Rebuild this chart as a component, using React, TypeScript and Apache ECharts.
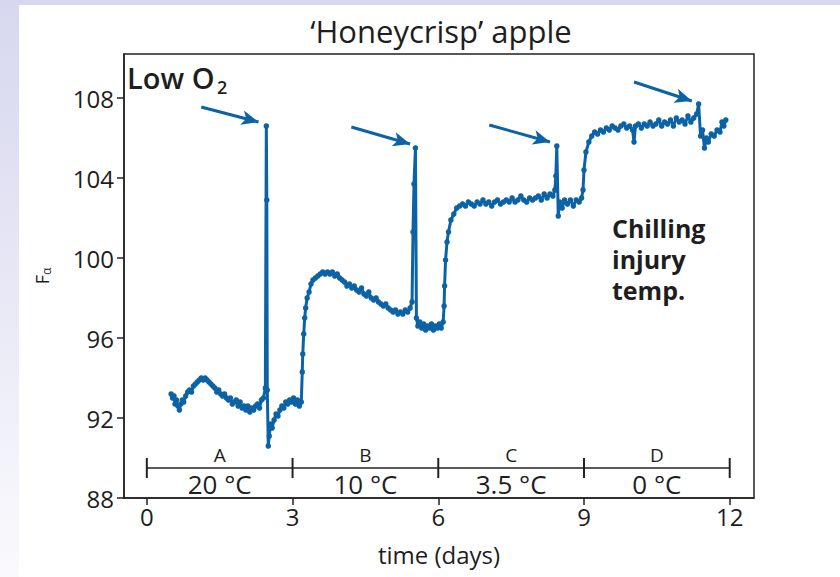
import React, { useEffect, useRef } from "react";
import * as echarts from "echarts";

// ---------- data ----------
const days: number[] = [
  0.5, 0.53, 0.56, 0.58, 0.61, 0.64, 0.67, 0.7, 0.73, 0.76, 0.8, 0.84, 0.88, 0.92, 0.96, 1.0, 1.04, 1.08, 1.12, 1.16,
  1.2, 1.24, 1.28, 1.32, 1.36, 1.4, 1.44, 1.48, 1.52, 1.56, 1.6, 1.64, 1.68, 1.72, 1.76, 1.8, 1.84, 1.88, 1.92, 1.96,
  2.0, 2.04, 2.08, 2.12, 2.16, 2.2, 2.24, 2.28, 2.32, 2.36, 2.4, 2.44, 2.46, 2.47, 2.48, 2.5, 2.52, 2.55, 2.58, 2.62,
  2.66, 2.7, 2.74, 2.78, 2.82, 2.86, 2.9, 2.94, 2.98, 3.02, 3.06, 3.1, 3.14, 3.18, 3.2, 3.21, 3.23, 3.25, 3.27, 3.3,
  3.34, 3.38, 3.42, 3.47, 3.52, 3.57, 3.62, 3.67, 3.72, 3.77, 3.82, 3.87, 3.92, 3.97, 4.02, 4.07, 4.12, 4.17, 4.22, 4.27,
  4.32, 4.37, 4.42, 4.47, 4.52, 4.57, 4.62, 4.67, 4.72, 4.77, 4.82, 4.87, 4.92, 4.97, 5.02, 5.07, 5.12, 5.17, 5.22, 5.27,
  5.32, 5.37, 5.42, 5.46, 5.48, 5.5, 5.53, 5.55, 5.58, 5.62, 5.66, 5.7, 5.74, 5.78, 5.82, 5.86, 5.9, 5.94, 5.98, 6.02,
  6.06, 6.1, 6.12, 6.13, 6.15, 6.18, 6.21, 6.26, 6.32, 6.38, 6.44, 6.5, 6.56, 6.62, 6.68, 6.74, 6.8, 6.86, 6.92, 6.98,
  7.04, 7.1, 7.16, 7.22, 7.28, 7.34, 7.4, 7.46, 7.52, 7.58, 7.64, 7.7, 7.76, 7.82, 7.88, 7.94, 8.0, 8.06, 8.12, 8.18,
  8.24, 8.3, 8.36, 8.4, 8.42, 8.44, 8.47, 8.5, 8.55, 8.6, 8.66, 8.72, 8.78, 8.84, 8.9, 8.95, 8.98, 9.0, 9.04, 9.1,
  9.16, 9.22, 9.28, 9.34, 9.4, 9.46, 9.52, 9.58, 9.64, 9.7, 9.76, 9.82, 9.88, 9.94, 10.0, 10.03, 10.06, 10.12, 10.18, 10.24,
  10.3, 10.36, 10.42, 10.48, 10.54, 10.6, 10.66, 10.72, 10.78, 10.84, 10.9, 10.96, 11.02, 11.08, 11.14, 11.2, 11.26, 11.32, 11.36, 11.4,
  11.44, 11.48, 11.52, 11.56, 11.62, 11.68, 11.74, 11.8, 11.84, 11.88, 11.92,
];

const fAlpha: number[] = [
  93.2, 93.0, 93.1, 92.7, 92.9, 92.6, 92.4, 92.7, 92.9, 92.8, 93.1, 93.3, 93.4, 93.3, 93.6, 93.7, 93.8, 93.9, 94.0, 93.9,
  94.0, 93.9, 93.8, 93.7, 93.6, 93.5, 93.3, 93.4, 93.2, 93.1, 93.2, 93.0, 92.9, 93.0, 92.7, 92.8, 92.9, 92.6, 92.8, 92.5,
  92.6, 92.4, 92.6, 92.3, 92.5, 92.4, 92.6, 92.7, 92.5, 92.9, 93.0, 93.5, 106.6, 102.9, 93.4, 90.6, 91.1, 91.7, 91.5, 91.9,
  92.2, 92.1, 92.4, 92.6, 92.5, 92.8, 92.7, 92.9, 92.8, 93.0, 92.7, 92.9, 92.6, 92.8, 94.3, 95.2, 96.2, 97.0, 97.5, 98.0,
  98.3, 98.7, 98.9, 99.0, 99.1, 99.2, 99.3, 99.2, 99.3, 99.2, 99.3, 99.1, 99.2, 99.0, 98.9, 98.8, 98.6, 98.7, 98.5, 98.6,
  98.4, 98.3, 98.5, 98.2, 98.1, 98.3, 98.0, 97.9, 98.0, 97.8, 97.7, 97.6, 97.7, 97.5, 97.4, 97.3, 97.4, 97.2, 97.3, 97.2,
  97.4, 97.3, 97.5, 97.8, 101.3, 103.7, 105.5, 97.0, 96.6, 96.8, 96.5, 96.7, 96.4, 96.6, 96.5, 96.7, 96.4, 96.6, 96.5, 96.7,
  96.5, 96.8, 97.6, 98.6, 99.9, 100.8, 101.3, 101.9, 102.2, 102.5, 102.6, 102.7, 102.6, 102.8, 102.7, 102.6, 102.8, 102.7, 102.9, 102.7,
  102.8, 102.6, 102.8, 102.9, 102.7, 102.8, 102.9, 102.8, 103.0, 102.8, 102.9, 103.1, 102.9, 102.8, 103.0, 102.9, 103.0, 103.1, 102.9, 103.2,
  103.0, 103.2, 103.1, 103.4, 104.1, 105.6, 102.1, 102.8, 102.5, 102.9, 102.7, 102.9, 102.6, 102.9, 102.8, 103.0, 103.4, 104.4, 105.3, 105.8,
  106.1, 106.3, 106.2, 106.4, 106.3, 106.5, 106.4, 106.6, 106.5, 106.4, 106.6, 106.7, 106.5, 106.6, 106.4, 105.8, 106.6, 106.7, 106.5, 106.7,
  106.6, 106.8, 106.6, 106.7, 106.9, 106.6, 106.8, 106.7, 106.9, 106.6, 107.0, 106.8, 106.9, 106.7, 107.1, 106.8, 107.0, 107.2, 107.7, 106.1,
  106.4, 105.5, 106.0, 105.8, 106.2, 106.1, 106.4, 106.3, 106.8, 106.6, 106.9,
];

// arrows: [startDay, startF, endDay, endF]
const arrows: number[][] = [
  [1.12, 107.55, 2.3, 106.8],
  [4.21, 106.55, 5.42, 105.7],
  [7.05, 106.65, 8.3, 105.8],
  [10.03, 108.8, 11.22, 107.85],
];

const xTickValues = [0, 3, 6, 9, 12];
const yTickValues = [88, 92, 96, 100, 104, 108];

const phaseBounds = [0, 3, 6, 9, 12];
const phaseLetters = ["A", "B", "C", "D"];
const phaseTemps = ["20 °C", "10 °C", "3.5 °C", "0 °C"];
const phaseBarLevel = 89.5;

const FONT = "'Open Sans', 'Noto Sans', sans-serif";
const BLUE = "#0b63a5";
const INK = "#1e1e1e";

export default function App() {
  const ref = useRef<HTMLDivElement>(null);

  useEffect(() => {
    if (!ref.current) return;
    const chart = echarts.init(ref.current, undefined, { renderer: "svg" });

    const mainData = days.map((d, i) => [d, fAlpha[i]]);
    const centers = phaseLetters.map((_, i) => (phaseBounds[i] + phaseBounds[i + 1]) / 2);

    const option: any = {
      animation: false,
      backgroundColor: "transparent",
      textStyle: { fontFamily: FONT },
      grid: {
        left: 124,
        right: 86,
        top: 54,
        bottom: 79,
        show: true,
        borderColor: "#222",
        borderWidth: 1.5,
        backgroundColor: "transparent",
      },
      xAxis: {
        type: "value",
        min: -0.47,
        max: 12.5,
        splitLine: { show: false },
        axisLine: { show: true, onZero: false, lineStyle: { color: "#222", width: 1.5 } },
        axisTick: { show: true, length: 7, customValues: xTickValues, lineStyle: { color: "#222", width: 1.5 } },
        axisLabel: { customValues: xTickValues, fontSize: 24, color: INK, margin: 6, fontFamily: FONT },
        name: "time (days)",
        nameLocation: "middle",
        nameGap: 44,
        nameTextStyle: { fontSize: 24, color: INK, fontFamily: FONT },
      },
      yAxis: {
        type: "value",
        min: 88,
        max: 110.2,
        splitLine: { show: false },
        axisLine: { show: true, onZero: false, lineStyle: { color: "#222", width: 1.5 } },
        axisTick: { show: true, length: 7, customValues: yTickValues, lineStyle: { color: "#222", width: 1.5 } },
        axisLabel: { customValues: yTickValues, fontSize: 24, color: INK, margin: 10, fontFamily: FONT },
        name: "{f|F}{s|α}",
        nameLocation: "middle",
        nameGap: 72,
        nameRotate: 90,
        nameTextStyle: {
          color: INK,
          rich: {
            f: { fontSize: 18, fontFamily: FONT, color: INK },
            s: { fontSize: 12, fontFamily: FONT, color: INK, padding: [8, 0, 0, 0] },
          },
        },
      },
      graphic: [
        {
          type: "text",
          x: 441,
          y: 31,
          style: { text: "‘Honeycrisp’ apple", fontSize: 31, fontWeight: 500, fontFamily: FONT, fill: INK, align: "center", verticalAlign: "middle" },
        },
        {
          type: "text",
          x: 127,
          y: 77,
          style: { text: "Low O", fontSize: 29, fontWeight: 600, fontFamily: FONT, fill: INK, align: "left", verticalAlign: "middle" },
        },
        {
          type: "text",
          x: 217,
          y: 87,
          style: { text: "2", fontSize: 18, fontWeight: 600, fontFamily: FONT, fill: INK, align: "left", verticalAlign: "middle" },
        },
        {
          type: "text",
          x: 612,
          y: 212,
          style: {
            text: "Chilling\ninjury\ntemp.",
            fontSize: 25,
            fontWeight: "bold",
            lineHeight: 31,
            fontFamily: FONT,
            fill: INK,
            align: "left",
            verticalAlign: "top",
          },
        },
      ],
      series: [
        {
          name: "Honeycrisp",
          type: "line",
          data: mainData,
          symbol: "circle",
          symbolSize: 5.5,
          showSymbol: true,
          itemStyle: { color: BLUE },
          lineStyle: { color: BLUE, width: 3 },
          z: 5,
          markLine: {
            silent: true,
            symbol: ["none", "arrow"],
            symbolSize: [11, 17],
            label: { show: false },
            lineStyle: { color: BLUE, width: 3, type: "solid" },
            data: arrows.map((a) => [{ coord: [a[0], a[1]] }, { coord: [a[2], a[3]] }]),
          },
        },
        {
          name: "phaseBar",
          type: "line",
          data: [
            [phaseBounds[0], phaseBarLevel],
            [phaseBounds[phaseBounds.length - 1], phaseBarLevel],
          ],
          showSymbol: false,
          symbol: "none",
          lineStyle: { color: "#222", width: 1.5 },
          silent: true,
          z: 3,
        },
        {
          name: "phaseTicks",
          type: "scatter",
          data: phaseBounds.map((b) => [b, phaseBarLevel]),
          symbol: "rect",
          symbolSize: [2, 20],
          itemStyle: { color: "#222", opacity: 1 },
          silent: true,
          z: 3,
        },
        {
          name: "phaseLetters",
          type: "scatter",
          data: centers.map((c, i) => ({ value: [c, phaseBarLevel], name: phaseLetters[i] })),
          symbolSize: 0,
          silent: true,
          itemStyle: { opacity: 1 },
          label: {
            show: true,
            position: [0, -13],
            align: "center",
            verticalAlign: "middle",
            formatter: (p: any) => p.name,
            fontSize: 19,
            lineHeight: 15,
            color: INK,
            opacity: 1,
            fontFamily: FONT,
          },
        },
        {
          name: "phaseTemps",
          type: "scatter",
          data: centers.map((c, i) => ({ value: [c, phaseBarLevel], name: phaseTemps[i] })),
          symbolSize: 0,
          silent: true,
          itemStyle: { opacity: 1 },
          label: {
            show: true,
            position: [0, 16],
            align: "center",
            verticalAlign: "middle",
            formatter: (p: any) => p.name,
            fontSize: 26,
            lineHeight: 19,
            color: INK,
            opacity: 1,
            fontFamily: FONT,
          },
        },
      ],
    };

    chart.setOption(option);
    return () => chart.dispose();
  }, []);

  return (
    <div
      style={{
        position: "fixed",
        left: 0,
        top: 0,
        width: 840,
        height: 577,
        background: "linear-gradient(to bottom, #d7d7ef 0%, #e6e6f5 45%, #fafafd 100%)",
      }}
    >
      <div style={{ position: "absolute", left: 19, top: 5, right: 0, bottom: 0, background: "#ffffff" }} />
      <div ref={ref} style={{ position: "absolute", left: 0, top: 0, width: 840, height: 577 }} />
    </div>
  );
}
